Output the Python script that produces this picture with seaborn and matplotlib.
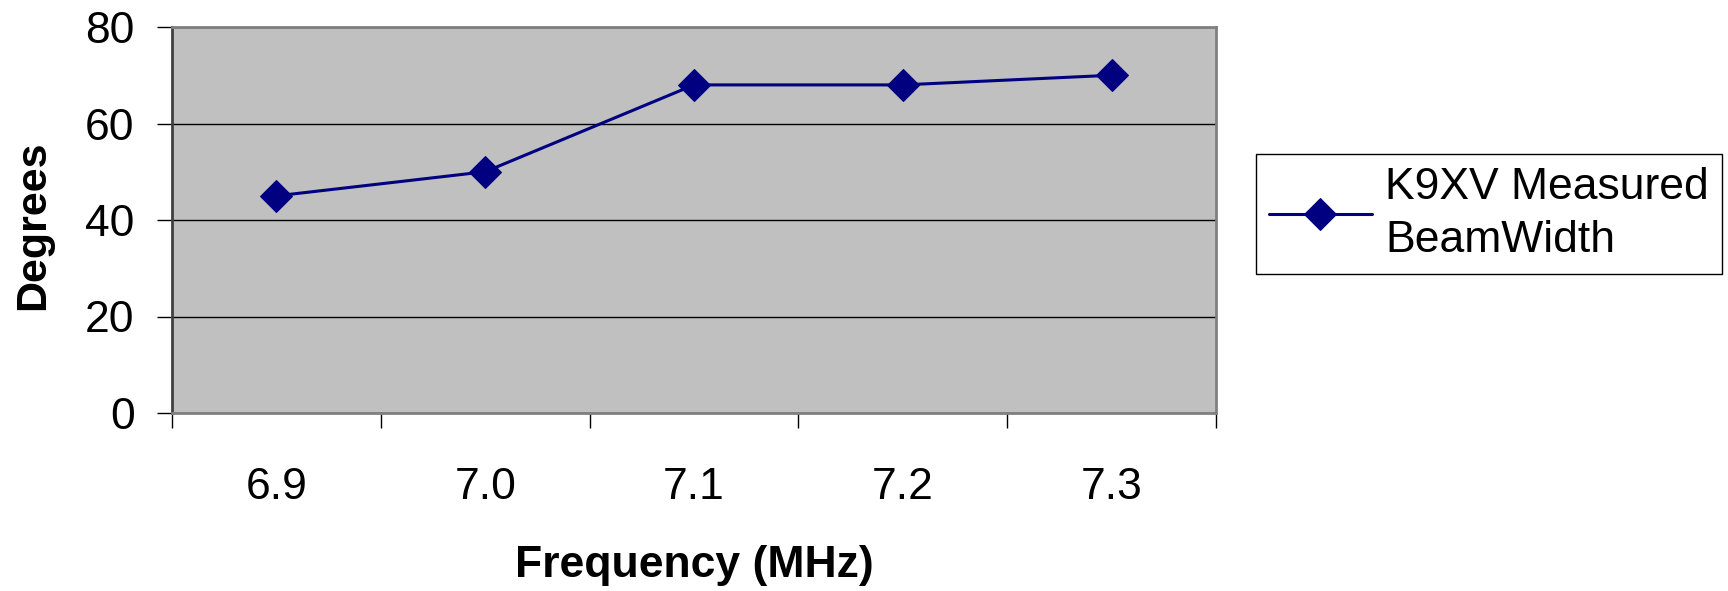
import matplotlib
matplotlib.use("Agg")
import matplotlib.pyplot as plt
import seaborn as sns
import pandas as pd
from matplotlib.ticker import FixedLocator

# values
frequencies = ["6.9", "7.0", "7.1", "7.2", "7.3"]
beamwidth = [45, 50, 68, 68, 70]
series_name = "K9XV Measured\nBeamWidth"

df = pd.DataFrame({"Frequency": frequencies, "Degrees": beamwidth})

sns.set_style("white")
plt.rcParams["font.family"] = ["Liberation Sans", "DejaVu Sans"]
for key in ["text.color", "axes.labelcolor", "xtick.color", "ytick.color"]:
    plt.rcParams[key] = "black"

W, H = 1728, 591
fig = plt.figure(figsize=(W / 100, H / 100), dpi=100)
# plot area in pixels: x 172..1216, y 27..413
ax = fig.add_axes([172 / W, 1 - 413 / H, (1216 - 172) / W, (413 - 27) / H])
ax.set_facecolor("#c0c0c0")

sns.lineplot(data=df, x="Frequency", y="Degrees", ax=ax, color="#000080",
             linewidth=2.2, marker="D", markersize=16.5, markeredgecolor="#000080",
             label=series_name, sort=False)

ax.set_ylim(0, 80)
ax.set_yticks([0, 20, 40, 60, 80])
ax.set_xlim(-0.5, len(frequencies) - 0.5)
ax.set_xticks(range(len(frequencies)))
ax.set_xticklabels(frequencies)
# ticks sit between categories, labels centred on them
ax.xaxis.set_minor_locator(FixedLocator([i - 0.5 for i in range(len(frequencies) + 1)]))
ax.tick_params(axis="x", which="major", length=0, pad=39, labelsize=32)
ax.tick_params(axis="x", which="minor", length=11, width=1, color="black", direction="out")
ax.tick_params(axis="y", length=11, width=1, color="black", direction="out", labelsize=32, pad=16)
ax.xaxis.set_tick_params(which="minor", bottom=True)
ax.yaxis.set_tick_params(left=True)

ax.grid(axis="y", color="black", linewidth=1)
ax.set_axisbelow(True)
for side in ["top", "right", "bottom"]:
    ax.spines[side].set_color("#808080")
    ax.spines[side].set_linewidth(2)
ax.spines["left"].set_color("#404040")
ax.spines["left"].set_linewidth(2)

ax.set_xlabel("Frequency (MHz)", fontsize=32, fontweight="bold", va="center")
ax.xaxis.set_label_coords(0.5, (413 - 565) / (413 - 27))
ax.set_ylabel("Degrees", fontsize=31, fontweight="bold", va="center")
ax.yaxis.set_label_coords((33 - 172) / (1216 - 172), (413 - 225) / (413 - 27))

leg = ax.legend(loc="upper left", bbox_to_anchor=(1256 / W, 1 - 154 / H),
                bbox_transform=fig.transFigure, borderaxespad=0, fontsize=32,
                frameon=True, fancybox=False, edgecolor="black", framealpha=1,
                handlelength=2.3, handletextpad=0.3, borderpad=0.3)
leg.get_frame().set_linewidth(1)
for t in leg.get_texts():
    t.set_linespacing(1.35)

fig.savefig("out.png", dpi=100)
